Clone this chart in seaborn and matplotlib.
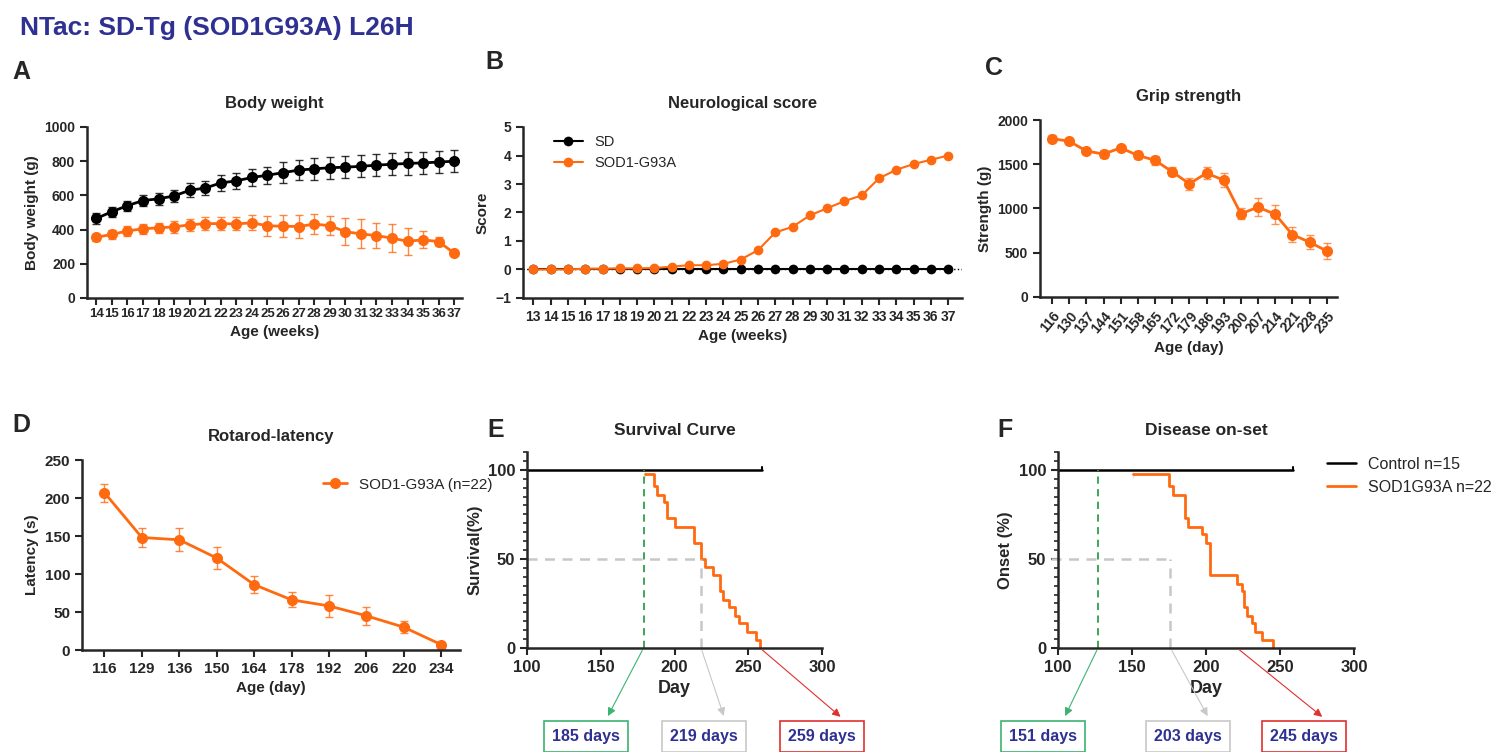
import numpy as np
import matplotlib
matplotlib.use("Agg")
import matplotlib.pyplot as plt
import seaborn as sns

sns.set_style("ticks")
plt.rcParams["font.family"] = ["Liberation Sans", "DejaVu Sans"]
plt.rcParams["font.weight"] = "bold"
plt.rcParams["axes.labelweight"] = "bold"
plt.rcParams["axes.linewidth"] = 1.8

ORANGE = "#FF6A10"
NAVY = "#2E3192"

# A: body weight
weeks_a = list(range(14, 38))
bw_sd = [465, 505, 540, 570, 580, 597, 630, 643, 673, 685, 705, 718, 733, 748, 755, 762,
         765, 770, 777, 782, 787, 790, 795, 800]
bw_sd_err = [30, 30, 30, 30, 35, 35, 40, 40, 45, 45, 50, 50, 60, 60, 65, 65, 65, 65, 65, 65,
             65, 63, 63, 63]
bw_tg = [355, 372, 392, 405, 410, 416, 428, 435, 435, 433, 440, 422, 420, 418, 432, 423,
         388, 375, 365, 350, 332, 340, 330, 262]
bw_tg_err = [22, 25, 30, 30, 30, 35, 35, 38, 38, 38, 45, 60, 65, 70, 60, 55, 80, 85, 75, 80,
             80, 50, 25, 0]

# B: neurological score
weeks_b = list(range(13, 38))
score_sd = [0] * 25
score_tg = [0, 0, 0, 0.03, 0.03, 0.04, 0.04, 0.05, 0.1, 0.15, 0.15, 0.2, 0.35, 0.68, 1.3,
            1.5, 1.9, 2.15, 2.4, 2.6, 3.2, 3.5, 3.7, 3.85, 4.0]

# C: grip strength
days_c = [116, 130, 137, 144, 151, 158, 165, 172, 179, 186, 193, 200, 207, 214, 221, 228, 235]
grip = [1790, 1760, 1650, 1615, 1685, 1600, 1545, 1415, 1280, 1400, 1320, 940, 1015, 935,
        705, 620, 520]
grip_err = [40, 30, 35, 45, 30, 45, 50, 50, 70, 70, 80, 60, 100, 110, 85, 80, 95]

# D: rotarod
days_d = [116, 129, 136, 150, 164, 178, 192, 206, 220, 234]
latency = [207, 148, 145, 121, 86, 66, 58, 45, 30, 7]
latency_err = [12, 13, 15, 14, 11, 10, 14, 12, 8, 0]

# E: survival (step starts)
surv_t = [180, 180, 186, 188, 193, 195, 200, 213, 218, 221, 226, 231, 233, 237, 241, 244,
          249, 255, 258]
surv_v = [100, 95.5, 91, 86, 82, 73, 68, 59, 50, 45.5, 41, 32, 27, 23, 18, 14, 9, 4.5, 0]
ctrl_end = 259

# F: onset (step starts)
onset_t = [151, 151, 175, 178, 186, 188, 197, 200, 203, 221, 224, 226, 228, 231, 233, 238, 245]
onset_v = [100, 95.5, 91, 86, 73, 68, 64, 59, 41, 36, 32, 23, 18, 14, 9, 4.5, 0]

fig = plt.figure(figsize=(15, 7.52), dpi=100)
W, H = 1500, 752


def add_ax(x0, y0, x1, y1):
    return fig.add_axes([x0 / W, 1 - y1 / H, (x1 - x0) / W, (y1 - y0) / H])


def style(ax, size=10):
    sns.despine(ax=ax)
    ax.tick_params(width=1.5, length=5, labelsize=size)
    for lab in ax.get_xticklabels() + ax.get_yticklabels():
        lab.set_fontweight("bold")


fig.text(20 / W, 1 - 28 / H, "NTac: SD-Tg (SOD1G93A) L26H", color=NAVY, fontsize=19,
         fontweight="bold", va="center")
for lab, x, y in [("A", 12, 72), ("B", 485, 62), ("C", 985, 68), ("D", 12, 425),
                  ("E", 487, 430), ("F", 997, 430)]:
    fig.text(x / W, 1 - y / H, lab, fontsize=18, fontweight="bold", va="center")

# A
ax = add_ax(87, 127, 462, 298)
x = np.arange(len(weeks_a))
for y, e, c in [(bw_sd, bw_sd_err, "black"), (bw_tg, bw_tg_err, ORANGE)]:
    sns.lineplot(x=x, y=y, ax=ax, color=c, marker="o", markersize=8, markeredgewidth=0, lw=2)
    ax.errorbar(x, y, yerr=e, fmt="none", ecolor=c, elinewidth=1, capsize=3, alpha=0.8)
ax.set_xticks(x, weeks_a)
ax.set_xlim(-0.6, len(x) - 0.5)
ax.set_ylim(0, 1000)
ax.set_yticks(range(0, 1001, 200))
ax.set_title("Body weight", fontsize=12, fontweight="bold", pad=14)
ax.set_xlabel("Age (weeks)", fontsize=11)
ax.set_ylabel("Body weight (g)", fontsize=11)
style(ax)
ax.tick_params(axis="x", labelsize=9.5, pad=2)

# B
ax = add_ax(523, 127, 962, 298)
x = np.arange(len(weeks_b))
ax.axhline(0, color="black", ls=":", lw=1)
sns.lineplot(x=x, y=score_sd, ax=ax, color="black", marker="o", markersize=7,
             markeredgewidth=0, lw=1.5, label="SD")
sns.lineplot(x=x, y=score_tg, ax=ax, color=ORANGE, marker="o", markersize=7,
             markeredgewidth=0, lw=1.5, label="SOD1-G93A")
ax.set_xticks(x, weeks_b)
ax.set_xlim(-0.6, len(x) - 0.2)
ax.set_ylim(-1, 5)
ax.set_yticks(range(-1, 6))
ax.set_title("Neurological score", fontsize=12, fontweight="bold", pad=14)
ax.set_xlabel("Age (weeks)", fontsize=11)
ax.set_ylabel("Score", fontsize=11)
leg = ax.legend(loc="upper left", bbox_to_anchor=(0.04, 1.03), frameon=False, fontsize=10.5)
for t in leg.get_texts():
    t.set_fontweight("normal")
style(ax)

# C
ax = add_ax(1040, 120, 1337, 297)
x = np.arange(len(days_c))
sns.lineplot(x=x, y=grip, ax=ax, color=ORANGE, marker="o", markersize=8, markeredgewidth=0, lw=2)
ax.errorbar(x, grip, yerr=grip_err, fmt="none", ecolor=ORANGE, elinewidth=1, capsize=3, alpha=0.7)
ax.set_xticks(x, days_c, rotation=50, ha="right", rotation_mode="anchor")
ax.set_xlim(-0.7, len(x) - 0.4)
ax.set_ylim(0, 2000)
ax.set_yticks(range(0, 2001, 500))
ax.set_title("Grip strength", fontsize=12, fontweight="bold", pad=14)
ax.set_xlabel("Age (day)", fontsize=11)
ax.set_ylabel("Strength (g)", fontsize=11)
style(ax)

# D
ax = add_ax(82, 460, 460, 650)
x = np.arange(len(days_d))
sns.lineplot(x=x, y=latency, ax=ax, color=ORANGE, marker="o", markersize=8,
             markeredgewidth=0, lw=2, label="SOD1-G93A (n=22)")
ax.errorbar(x, latency, yerr=latency_err, fmt="none", ecolor=ORANGE, elinewidth=1, capsize=3, alpha=0.8)
ax.set_xticks(x, days_d)
ax.set_xlim(-0.6, len(x) - 0.5)
ax.set_ylim(0, 250)
ax.set_yticks(range(0, 251, 50))
ax.set_title("Rotarod-latency", fontsize=12, fontweight="bold", pad=14)
ax.set_xlabel("Age (day)", fontsize=11)
ax.set_ylabel("Latency (s)", fontsize=11)
leg = ax.legend(loc="upper left", bbox_to_anchor=(0.6, 0.98), frameon=False, fontsize=11,
                handlelength=1.6)
for t in leg.get_texts():
    t.set_fontweight("normal")
style(ax, 11)


def km(ax, t, v, ctrl_x, green_x, gray_x, gray_start, title, ylabel, boxes):
    ax.plot([100, ctrl_x], [100, 100], color="black", lw=1.8, label="Control n=15")
    ax.plot([ctrl_x, ctrl_x], [100, 101.5], color="black", lw=1.5)
    sns.lineplot(x=t + [t[-1]], y=v + [v[-1]], ax=ax, drawstyle="steps-post", color=ORANGE,
                 lw=2, label="SOD1G93A n=22", sort=False)
    ax.plot([green_x, green_x], [0, 100], color="#2EA04A", ls=(0, (4, 3)), lw=1.3)
    ax.plot([gray_start, gray_x], [50, 50], color="#C8C8C8", ls=(0, (4, 3)), lw=1.8, clip_on=False)
    ax.plot([gray_x, gray_x], [0, 50], color="#C8C8C8", ls=(0, (4, 3)), lw=1.8)
    ax.set_xlim(100, 300)
    ax.set_ylim(0, 110)
    ax.set_xticks(range(100, 301, 50))
    ax.set_yticks([0, 50, 100])
    ax.set_yticks(range(0, 111, 5), minor=True)
    ax.tick_params(axis="y", which="minor", length=3, width=1.2)
    ax.set_title(title, fontsize=12.5, fontweight="bold", pad=12)
    ax.set_xlabel("Day", fontsize=13)
    ax.set_ylabel(ylabel, fontsize=12)
    style(ax, 12)
    for (src, txt, col, bx) in boxes:
        ax.annotate("", xy=(bx + 0.07, -0.36), xycoords="axes fraction",
                    xytext=(src, 0), textcoords="data",
                    arrowprops=dict(arrowstyle="-|>", color=col, lw=0.8, mutation_scale=12))
        ax.text(bx, -0.45, txt, transform=ax.transAxes, ha="center", va="center",
                color=NAVY, fontsize=11.5, fontweight="bold",
                bbox=dict(boxstyle="square,pad=0.5", fc="white", ec=col, lw=1.2))


# E
ax = add_ax(527, 452, 822, 648)
km(ax, surv_t, surv_v, ctrl_end, 179, 218, 100, "Survival Curve", "Survival(%)",
   [(179, "185 days", "#3CB371", 0.2), (218, "219 days", "#C8C8C8", 0.6),
    (258, "259 days", "#E03030", 1.0)])
ax.get_legend().remove()

# F
ax = add_ax(1058, 452, 1354, 648)
km(ax, onset_t, onset_v, ctrl_end, 127, 176, 95, "Disease on-set", "Onset (%)",
   [(127, "151 days", "#3CB371", -0.05), (176, "203 days", "#C8C8C8", 0.44),
    (221, "245 days", "#E03030", 0.83)])
leg = ax.legend(loc="upper left", bbox_to_anchor=(0.86, 1.05), frameon=False, fontsize=11.5,
                handlelength=1.8)
for t in leg.get_texts():
    t.set_fontweight("normal")

fig.savefig("out.png", dpi=100)
